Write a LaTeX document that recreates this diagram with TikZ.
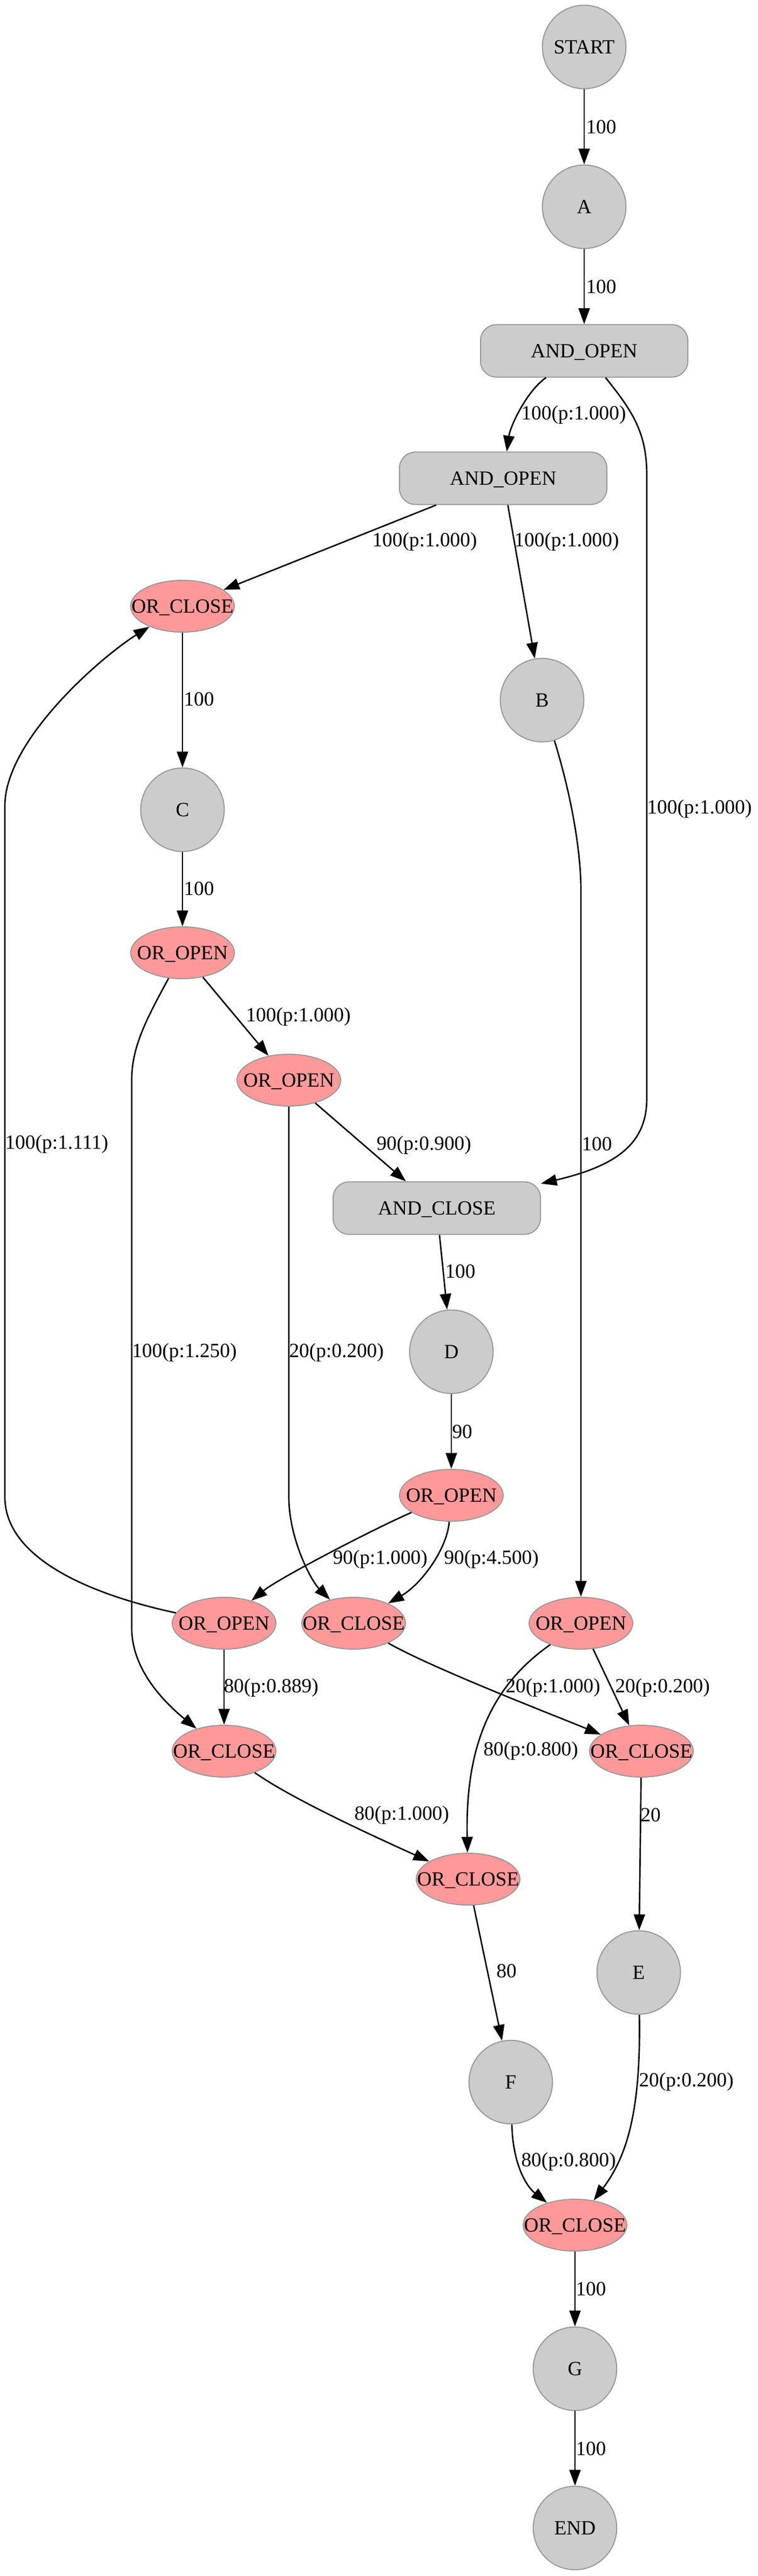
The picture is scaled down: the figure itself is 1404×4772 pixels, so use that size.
\documentclass[tikz,border=0pt]{standalone}
\usepackage{fontspec}
\setmainfont{Liberation Serif}
\usetikzlibrary{arrows.meta,shapes.geometric}
\definecolor{nodegray}{HTML}{CCCCCC}
\definecolor{bordergray}{HTML}{999999}
\definecolor{orpink}{HTML}{FF9999}
\begin{document}
\begin{tikzpicture}[x=0.375pt,y=-0.375pt,
  base/.style={draw=bordergray, line width=0.75pt, font=\fontsize{14}{16}\selectfont, inner sep=0pt, text depth=0pt},
  circ/.style={base, circle, fill=nodegray, minimum size=58pt},
  orn/.style={base, ellipse, fill=orpink, minimum width=72pt, minimum height=36pt},
  andn/.style={base, rectangle, rounded corners=11pt, fill=nodegray, minimum width=144pt, minimum height=36.4pt},
  lbl/.style={font=\fontsize{14}{16}\selectfont, inner sep=0pt, anchor=west},
  edge/.style={draw=black, line width=1pt, -{Triangle[length=11pt,width=7.8pt]}}]
\useasboundingbox (0,0) rectangle (1404,4772);
% nodes
\node[circ] (START) at (1082,87) {START};
\node[circ] (A) at (1082,383) {A};
\node[andn] (AO1) at (1082,650) {AND\_OPEN};
\node[andn] (AO2) at (932,886) {AND\_OPEN};
\node[orn] (OC1) at (338,1123) {\makebox[0pt]{OR\_CLOSE}};
\node[circ] (B) at (1004,1297) {B};
\node[circ] (C) at (338,1500) {C};
\node[orn] (OO1) at (338,1765) {\makebox[0pt]{OR\_OPEN}};
\node[orn] (OO2) at (535,2001) {\makebox[0pt]{OR\_OPEN}};
\node[andn] (AC) at (809,2238) {AND\_CLOSE};
\node[circ] (D) at (836,2504) {D};
\node[orn] (OO3) at (836,2770) {\makebox[0pt]{OR\_OPEN}};
\node[orn] (OO4) at (415,3007) {\makebox[0pt]{OR\_OPEN}};
\node[orn] (OC3) at (655,3007) {\makebox[0pt]{OR\_CLOSE}};
\node[orn] (OO5) at (1076,3007) {\makebox[0pt]{OR\_OPEN}};
\node[orn] (OC4) at (415,3244) {\makebox[0pt]{OR\_CLOSE}};
\node[orn] (OC5) at (1188,3244) {\makebox[0pt]{OR\_CLOSE}};
\node[orn] (OC6) at (867,3481) {\makebox[0pt]{OR\_CLOSE}};
\node[circ] (E) at (1183,3654) {E};
\node[circ] (F) at (946,3857) {F};
\node[orn] (OC7) at (1065,4122) {\makebox[0pt]{OR\_CLOSE}};
\node[circ] (G) at (1065,4388) {G};
\node[circ] (END) at (1065,4683) {END};
% edges
\draw[edge] (START) -- (A);
\draw[edge] (A) -- (AO1);
\draw[edge] (AO1) .. controls (975,725) and (945,790) .. (AO2);
\draw[edge] (AO1) .. controls (1170,760) and (1198,800) .. (1198,880) -- (1198,2035) .. controls (1198,2120) and (1140,2160) .. (AC);
\draw[edge] (AO2) -- (OC1);
\draw[edge] (AO2) -- (B);
\draw[edge] (OC1) -- (C);
\draw[edge] (C) -- (OO1);
\draw[edge] (OO1) -- (OO2);
\draw[edge] (OO2) -- (AC);
\draw[edge] (B) .. controls (1060,1480) and (1076,1580) .. (1076,1650) -- (OO5);
\draw[edge] (AC) -- (D);
\draw[edge] (D) -- (OO3);
\draw[edge] (OO3) .. controls (699,2829) and (517,2923) .. (OO4);
\draw[edge] (OO3) .. controls (828,2870) and (780,2935) .. (OC3);
\draw[edge] (OO2) -- (535,2773) .. controls (535,2850) and (576,2928) .. (OC3);
\draw[edge] (OO4) .. controls (150,2950) and (9,2880) .. (9,2773) -- (9,1493) .. controls (9,1370) and (190,1215) .. (OC1);
\draw[edge] (OO1) .. controls (270,1890) and (244,1940) .. (244,2000) -- (244,3016) .. controls (244,3090) and (300,3150) .. (OC4);
\draw[edge] (OO4) -- (OC4);
\draw[edge] (OC3) .. controls (800,3090) and (1020,3175) .. (OC5);
\draw[edge] (OO5) -- (OC5);
\draw[edge] (OO5) .. controls (900,3130) and (862,3250) .. (OC6);
\draw[edge] (OC4) .. controls (545,3335) and (700,3405) .. (OC6);
\draw[edge] (OC5) -- (E);
\draw[edge] (OC6) -- (F);
\draw[edge] (F) .. controls (950,4010) and (975,4050) .. (OC7);
\draw[edge] (E) .. controls (1187,3900) and (1165,3990) .. (OC7);
\draw[edge] (OC7) -- (G);
\draw[edge] (G) -- (END);
% labels
\node[lbl] (l1) at (1085,235) {100};
\node[lbl] (l2) at (1085,531) {100};
\node[lbl] (l3) at (965,769) {100(p:1.000)};
\node[lbl] (l4) at (1198,1499) {100(p:1.000)};
\node[lbl] (l5) at (689,1004) {100(p:1.000)};
\node[lbl] (l6) at (952,1004) {100(p:1.000)};
\node[lbl] (l7) at (340,1295) {100};
\node[lbl] (l8) at (340,1646) {100};
\node[lbl] (l9) at (455,1884) {100(p:1.000)};
\node[lbl] (l10) at (697,2121) {90(p:0.900)};
\node[lbl] (l11) at (1077,2119) {100};
\node[lbl] (l12) at (9,2119) {100(p:1.111)};
\node[lbl] (l13) at (824,2355) {100};
\node[lbl] (l14) at (244,2505) {100(p:1.250)};
\node[lbl] (l15) at (535,2505) {20(p:0.200)};
\node[lbl] (l16) at (837,2652) {90};
\node[lbl] (l17) at (616,2888) {90(p:1.000)};
\node[lbl] (l18) at (822,2888) {90(p:4.500)};
\node[lbl] (l19) at (414,3126) {80(p:0.889)};
\node[lbl] (l20) at (936,3126) {20(p:1.000)};
\node[lbl] (l21) at (1139,3126) {20(p:0.200)};
\node[lbl] (l22) at (895,3243) {80(p:0.800)};
\node[lbl] (l23) at (656,3362) {80(p:1.000)};
\node[lbl] (l24) at (1186,3362) {20};
\node[lbl] (l25) at (919,3651) {80};
\node[lbl] (l26) at (1183,3856) {20(p:0.200)};
\node[lbl] (l27) at (965,4004) {80(p:0.800)};
\node[lbl] (l28) at (1066,4240) {100};
\node[lbl] (l29) at (1066,4536) {100};
\end{tikzpicture}
\end{document}
